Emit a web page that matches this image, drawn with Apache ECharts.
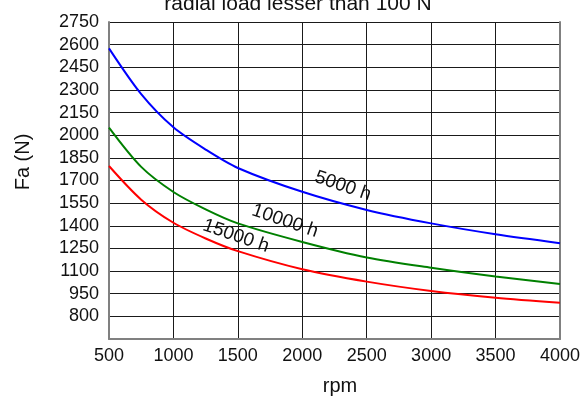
<!DOCTYPE html>
<html>
<head>
<meta charset="utf-8">
<script src="https://cdn.jsdelivr.net/npm/echarts@6/dist/echarts.min.js"></script>
<style>
  html, body { margin: 0; padding: 0; background: #fff; }
  #chart { width: 585px; height: 396px; }
</style>
</head>
<body>
<div id="chart"></div>
<script>
// rpm values along the x axis
var rpm = [500, 750, 1000, 1250, 1500, 2000, 2500, 3000, 3500, 4000];
// axial load Fa (N) per life rating
var fa5000 = [2575, 2272, 2052, 1905, 1783, 1625, 1505, 1416, 1344, 1285];
var fa10000 = [2050, 1790, 1624, 1509, 1416, 1293, 1190, 1122, 1064, 1014];
var fa15000 = [1796, 1573, 1420, 1316, 1232, 1112, 1030, 968, 923, 890];
var curveNames = ['5000 h', '10000 h', '15000 h'];

var font = 'Liberation Sans, Arial, sans-serif';

function pairs(ys) {
  var out = [];
  for (var i = 0; i < rpm.length; i++) {
    out.push([rpm[i], ys[i]]);
  }
  return out;
}

function curve(name, ys, color) {
  return {
    name: name,
    type: 'line',
    data: pairs(ys),
    smooth: 0.3,
    showSymbol: false,
    lineStyle: { color: color, width: 2 },
    z: 5
  };
}

var chart = echarts.init(document.getElementById('chart'));
var option = {
  animation: false,
  backgroundColor: '#fff',
  grid: { left: 109, right: 25, top: 22, bottom: 57 },
  xAxis: {
    type: 'value',
    min: 500,
    max: 4000,
    interval: 500,
    axisLine: { show: true, lineStyle: { color: '#808080', width: 2 } },
    axisTick: { show: false },
    axisLabel: {
      color: '#111', fontSize: 18, fontFamily: font, margin: 8,
      formatter: function (v) { return String(v); }
    },
    splitLine: { show: true, lineStyle: { color: '#1a1a1a', width: 1 } }
  },
  yAxis: [{
    type: 'value',
    min: 650,
    max: 2750,
    interval: 150,
    axisLine: { show: true, onZero: false, lineStyle: { color: '#808080', width: 2 } },
    axisTick: { show: false },
    axisLabel: {
      color: '#111', fontSize: 18, fontFamily: font, margin: 10,
      formatter: function (v) { return v === 650 ? '' : String(v); }
    },
    splitLine: { show: true, lineStyle: { color: '#1a1a1a', width: 1 } }
  }, {
    type: 'value',
    position: 'right',
    min: 650,
    max: 2750,
    interval: 150,
    axisLine: { show: true, lineStyle: { color: '#808080', width: 2 } },
    axisTick: { show: false },
    axisLabel: { show: false },
    splitLine: { show: false }
  }],
  series: [
    curve(curveNames[0], fa5000, '#0000ff'),
    curve(curveNames[1], fa10000, '#008000'),
    curve(curveNames[2], fa15000, '#ff0000')
  ],
  graphic: [
    { type: 'text', x: 298, y: 4, z: 10,
      style: { text: 'radial load lesser than 100 N', font: '21px ' + font, fill: '#111', align: 'center', verticalAlign: 'middle' } },
    { type: 'text', x: 23, y: 162, rotation: Math.PI / 2, z: 10,
      style: { text: 'Fa (N)', font: '20px ' + font, fill: '#111', align: 'center', verticalAlign: 'middle' } },
    { type: 'text', x: 340, y: 386, z: 10,
      style: { text: 'rpm', font: '20px ' + font, fill: '#111', align: 'center', verticalAlign: 'middle' } },
    { type: 'text', x: 343, y: 186, rotation: -0.33, z: 10,
      style: { text: curveNames[0], font: '19px ' + font, fill: '#111', align: 'center', verticalAlign: 'middle' } },
    { type: 'text', x: 285, y: 221, rotation: -0.33, z: 10,
      style: { text: curveNames[1], font: '19px ' + font, fill: '#111', align: 'center', verticalAlign: 'middle' } },
    { type: 'text', x: 236, y: 236, rotation: -0.33, z: 10,
      style: { text: curveNames[2], font: '19px ' + font, fill: '#111', align: 'center', verticalAlign: 'middle' } }
  ]
};
chart.setOption(option);
</script>
</body>
</html>
